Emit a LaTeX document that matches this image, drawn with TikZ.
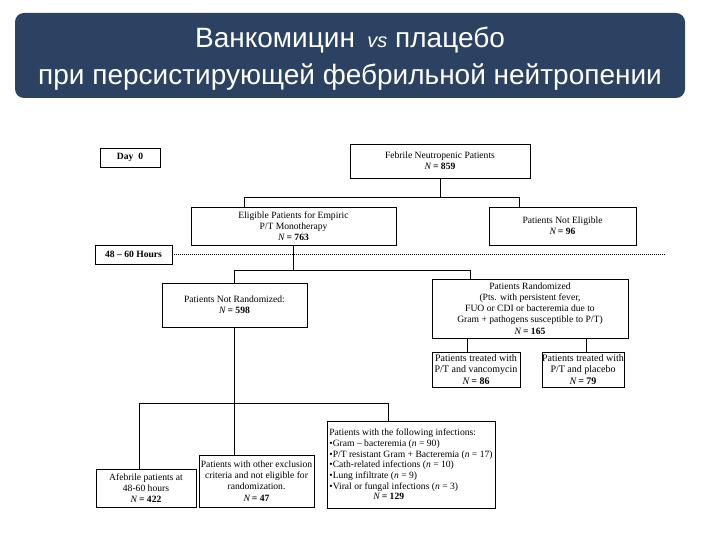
\documentclass[tikz,border=0pt]{standalone}
\usepackage{fontspec}
\setmainfont{Liberation Serif}
\newfontfamily\titlefont{Liberation Sans}
\usepackage{tikz}
\usepackage{xcolor}
\definecolor{bannerblue}{HTML}{2B4262}
\newcommand{\nval}[1]{\textit{N}\,\textbf{= #1}}
\tikzset{
	box/.style={draw,line width=0.9pt,inner sep=0pt,align=center,font=\fontsize{9.6}{11.2}\selectfont},
	bigbox/.style={box,font=\fontsize{10}{11.4}\selectfont},
	link/.style={line width=0.8pt}
}

\begin{document}
\begin{tikzpicture}[x=1pt,y=-1pt]
			\useasboundingbox (0,0) rectangle (720,540);
			% banner
			\node[fill=bannerblue,rounded corners=9pt,minimum width=670,minimum height=85] (banner) at (350,55.5) {};
			\node[text=white,align=center,font=\titlefont\fontsize{28}{37}\selectfont] (title) at (350,59)
				{Ванкомицин \,{\fontsize{20}{20}\selectfont\itshape vs} плацебо\\при персистирующей фебрильной нейтропении};
			% time marks
			\node[box,minimum width=60,minimum height=19] (day) at (130,157.5) {\textbf{Day\ \ 0}};
			\node[box,minimum width=77,minimum height=19] (hours) at (133.5,254.5) {\textbf{48 -- 60 Hours}};
			\coordinate (dotend) at (665,254.5);
			\draw[line width=0.9pt,dash pattern=on 1pt off 1pt] (hours.east) -- (dotend);
			% boxes
			\node[box,minimum width=180,minimum height=34] (feb) at (440,161) {Febrile Neutropenic Patients\\\nval{859}};
			\node[box,minimum width=205,minimum height=38] (elig) at (293.5,226) {Eligible Patients for Empiric\\P/T Monotherapy\\\nval{763}};
			\node[box,minimum width=147,minimum height=38] (nelig) at (562.5,226) {Patients Not Eligible\\\nval{96}};
			\node[box,minimum width=145,minimum height=44] (nrand) at (234.5,305) {Patients Not Randomized:\\\nval{598}};
			\node[box,minimum width=196,minimum height=59] (rand) at (530,308.5) {Patients Randomized\\(Pts. with persistent fever,\\FUO or CDI or bacteremia due to\\Gram + pathogens susceptible to P/T)\\\nval{165}};
			\node[bigbox,minimum width=88,minimum height=35] (vanc) at (476,369.5) {Patients treated with\\P/T and vancomycin\\\nval{86}};
			\node[bigbox,minimum width=82,minimum height=35] (plac) at (583,369.5) {Patients treated with\\P/T and placebo\\\nval{79}};
			\node[box,minimum width=100,minimum height=38] (afeb) at (146,488) {Afebrile patients at\\48-60 hours\\\nval{422}};
			\node[box,minimum width=115,minimum height=52] (other) at (256.5,481) {Patients with other exclusion\\criteria and not eligible for\\randomization.\\\nval{47}};
			\node[box,minimum width=168,minimum height=87,align=left,inner xsep=2pt,
				font=\fontsize{9.6}{10.7}\selectfont] (inf) at (411,464.5)
				{Patients with the following infections:\\
				•Gram -- bacteremia (\textit{n} = 90)\\
				•P/T resistant Gram + Bacteremia (\textit{n} = 17)\\
				•Cath-related infections (\textit{n} = 10)\\
				•Lung infiltrate (\textit{n} = 9)\\
				•Viral or fungal infections (\textit{n} = 3)\\
				\hspace*{44pt}\nval{129}};
			% connectors
			\coordinate (j1) at (244,197);
			\coordinate (j2) at (519,197);
			\draw[link] (feb.south) -- (feb.south |- j1);
			\draw[link] (elig.north -| j1) -- (j1) -- (j2) -- (nelig.north -| j2);
			\coordinate (j3) at (234,270);
			\coordinate (j4) at (470,270);
			\draw[link] (elig.south) -- (elig.south |- j3);
			\draw[link] (nrand.north -| j3) -- (j3) -- (j4) -- (rand.north -| j4);
			\coordinate (k1) at (467,338);
			\coordinate (k2) at (586,338);
			\draw[link] (k1) -- (vanc.north -| k1);
			\draw[link] (k2) -- (plac.north -| k2);
			\coordinate (m1) at (139,403);
			\coordinate (m2) at (388,403);
			\draw[link] (nrand.south -| j3) -- (j3 |- m1);
			\draw[link] (afeb.north -| m1) -- (m1) -- (m2) -- (inf.north -| m2);
			\draw[link] (other.north -| j3) -- (j3 |- m1);
		\end{tikzpicture}
\end{document}
